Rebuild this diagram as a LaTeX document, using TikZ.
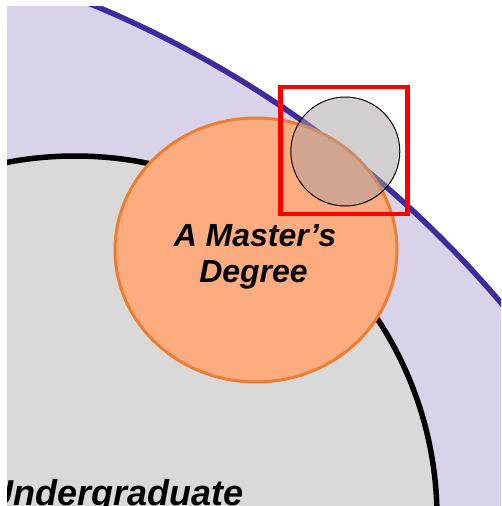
\documentclass[tikz,border=0pt]{standalone}
\usepackage{fontspec}
\setmainfont{Liberation Sans}
\usetikzlibrary{shapes.geometric}
\definecolor{lav}{HTML}{D9D3EA}
\definecolor{purp}{HTML}{3F2B9E}
\definecolor{ugray}{HTML}{D9D9D9}
\definecolor{morange}{HTML}{FCAC7E}
\definecolor{mborder}{HTML}{ED7D31}
\definecolor{smallgray}{RGB}{167,160,160}
\begin{document}
\begin{tikzpicture}[x=1pt,y=-1pt,
  bigring/.style={circle,inner sep=0pt,line width=5.5pt},
  label/.style={text=black,inner sep=0pt}]
\useasboundingbox (0,0) rectangle (501,506);
\begin{scope}
\clip (7,6) rectangle (501,506);
\node[bigring,fill=lav,draw=purp,minimum size=2154pt] (outer) at (-320,1000) {};
\node[bigring,fill=ugray,draw=black,minimum size=724pt] (under) at (75,518) {};
\node[label,font=\fontsize{36}{42}\selectfont\bfseries\itshape,anchor=base east] (ulabel) at (244,505) {Undergraduate};
\end{scope}
\node[ellipse,fill=morange,draw=mborder,line width=3pt,minimum width=282pt,minimum height=264pt,inner sep=0pt] (master) at (256,250) {};
\node[label,font=\fontsize{32}{36}\selectfont\bfseries\itshape,anchor=base] (mlabel1) at (255,246) {A Master’s};
\node[label,font=\fontsize{32}{36}\selectfont\bfseries\itshape,anchor=base] (mlabel2) at (253.5,282) {Degree};
\node[circle,fill=smallgray,fill opacity=0.5,draw=black,line width=1pt,minimum size=109pt,inner sep=0pt] (small) at (345.3,151.5) {};
\node[draw=red,line width=4.5pt,minimum width=127pt,minimum height=127pt,inner sep=0pt] (box) at (344,150.5) {};
\end{tikzpicture}
\end{document}
